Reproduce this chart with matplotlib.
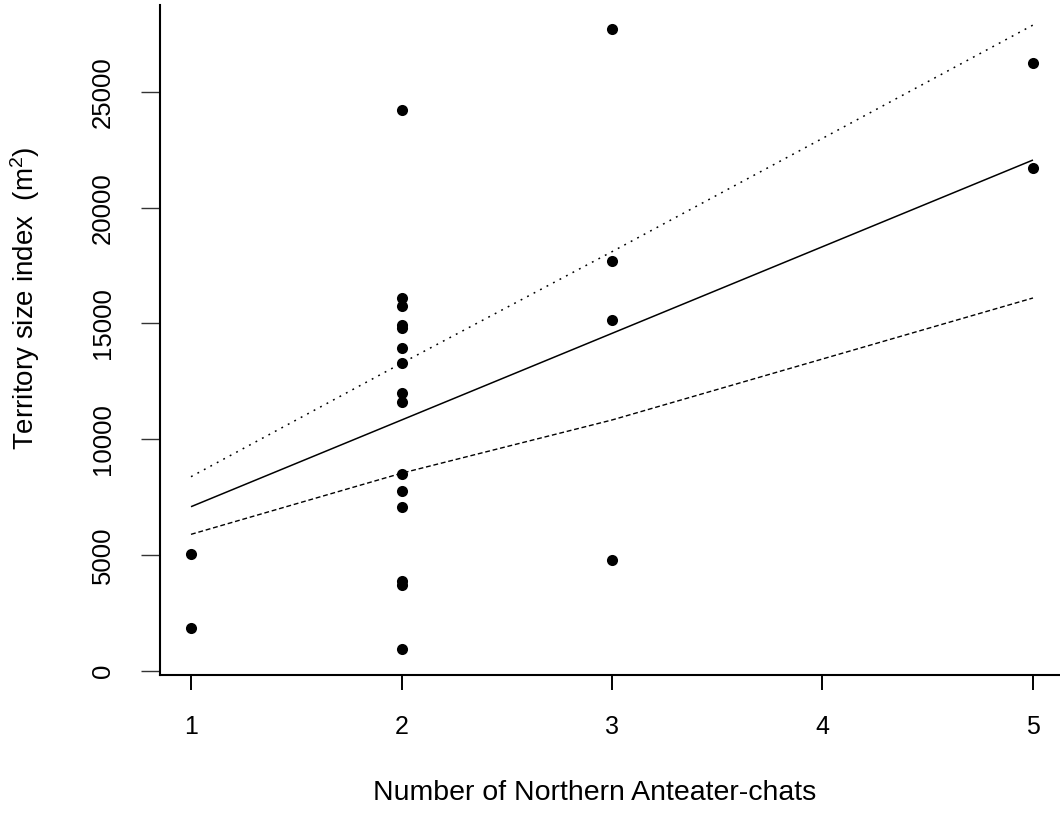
import matplotlib
matplotlib.use("Agg")
import matplotlib.pyplot as plt

plt.rcParams['font.family'] = ['Liberation Sans', 'DejaVu Sans']
plt.rcParams['mathtext.fontset'] = 'custom'
plt.rcParams['mathtext.rm'] = 'Liberation Sans'
plt.rcParams['mathtext.it'] = 'Liberation Sans'

# Observed data: number of Northern Anteater-chats vs territory size index
chats = [1, 1,
         2, 2, 2, 2, 2, 2, 2, 2, 2, 2, 2, 2, 2, 2, 2,
         3, 3, 3, 3,
         5, 5]
territory = [5040, 1830,
             24220, 16090, 15770, 14930, 14790, 13950, 13280, 11980, 11620,
             8500, 7780, 7080, 3890, 3700, 920,
             27740, 17690, 15160, 4780,
             26270, 21700]

# Fitted line and confidence band evaluated at the observed x values
fit_x = [1, 2, 3, 5]
fit_mean = [7084, 10828, 14572, 22060]
fit_upper = [8380, 13280, 18100, 27890]
fit_lower = [5890, 8530, 10830, 16100]

x_ticks = [1, 2, 3, 4, 5]
y_ticks = [0, 5000, 10000, 15000, 20000, 25000]

fig = plt.figure(figsize=(10.6, 8.15), dpi=100)
ax = fig.add_axes([160/1060, 1 - 675/815, 900/1060, 670/815])

ax.plot(fit_x, fit_mean, color='black', lw=1.1, solid_capstyle='butt')
ax.plot(fit_x, fit_upper, color='black', lw=1.1, dashes=(1.2, 3.6))
ax.plot(fit_x, fit_lower, color='black', lw=1.0, dashes=(3.5, 2.0))
ax.plot(chats, territory, 'o', color='black', markersize=8, markeredgewidth=0)

ax.set_xlim(0.8527, 5.1283)
ax.set_ylim(-186, 28756)

ax.set_xticks(x_ticks)
ax.set_xticklabels([str(v) for v in x_ticks])
ax.set_yticks(y_ticks)
ax.set_yticklabels([str(v) for v in y_ticks], rotation=90, va='center')

for s in ('top', 'right'):
    ax.spines[s].set_visible(False)
for s in ('left', 'bottom'):
    ax.spines[s].set_linewidth(1.5)
    ax.spines[s].set_color('black')

ax.tick_params(axis='x', length=10.8, width=1.4, pad=18, labelsize=18, color='black')
ax.tick_params(axis='y', length=13.7, width=1.0, pad=19, labelsize=18.5, color='#333333')

fig.text(595/1060, 1 - 793/815, 'Number of Northern Anteater-chats',
         ha='center', va='center', fontsize=20.5)
fig.text(25/1060, 1 - 298/815, 'Territory size index  (m$^2$)',
         ha='center', va='center', rotation=90, fontsize=20)

fig.savefig('out.png', dpi=100)
